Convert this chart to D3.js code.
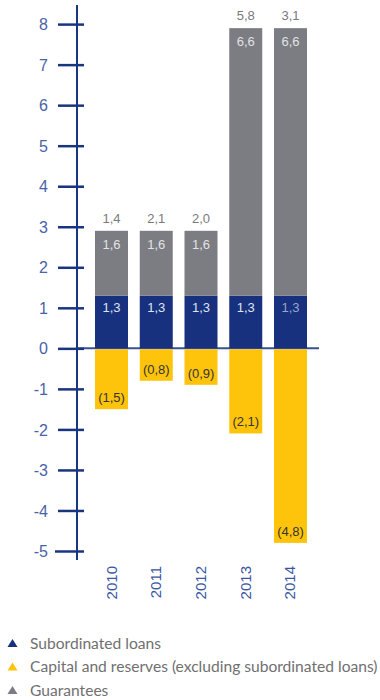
<!DOCTYPE html>
<html><head><meta charset="utf-8">
<script src="https://cdn.jsdelivr.net/npm/d3@7/dist/d3.min.js"></script>
<style>body{margin:0;background:#fff}svg{display:block}</style>
</head><body>
<script>
const years = ["2010","2011","2012","2013","2014"];
const subordinated = [1.3,1.3,1.3,1.3,1.3];
const guarantees = [1.6,1.6,1.6,6.6,6.6];
const capital = [-1.5,-0.8,-0.9,-2.1,-4.8];
const topLabels = ["1,4","2,1","2,0","5,8","3,1"];
const yTicks = [-5,-4,-3,-2,-1,0,1,2,3,4,5,6,7,8];
const legendItems = ["Subordinated loans","Capital and reserves (excluding subordinated loans)","Guarantees"];

const C = {navy:"#17317f", gray:"#7c7d82", yellow:"#fec40c", axis:"#1a3580", tick:"#4a62a8", year:"#3b56a4", legend:"#707070"};
const fmt = v => String(v.toFixed(1)).replace(".", ",");

const svg = d3.select("body").append("svg").attr("width",380).attr("height",700);
const font = "'Liberation Sans', Arial, sans-serif";

const y = d3.scaleLinear().domain([-5,8]).range([551,24.1]);
const x = d3.scaleBand().domain(years).range([83.25,318.75]).paddingInner(0.2626).paddingOuter(0.2626);

// zero line
svg.append("line").attr("x1",77).attr("x2",319).attr("y1",y(0)).attr("y2",y(0))
  .attr("stroke","#3a4f8e").attr("stroke-width",2);

// bars
const g = svg.append("g");
years.forEach((yr,i)=>{
  const x0 = x(yr), w = x.bandwidth();
  g.append("rect").attr("x",x0).attr("width",w).attr("y",y(subordinated[i])).attr("height",y(0)-y(subordinated[i])).attr("fill",C.navy);
  g.append("rect").attr("x",x0).attr("width",w).attr("y",y(subordinated[i]+guarantees[i])).attr("height",y(subordinated[i])-y(subordinated[i]+guarantees[i])).attr("fill",C.gray);
  g.append("rect").attr("x",x0).attr("width",w).attr("y",y(0)+1).attr("height",y(capital[i])-y(0)-1).attr("fill",C.yellow);
  const cx = x0 + w/2;
  const top = y(subordinated[i]+guarantees[i]);
  const t = (txt, yy, col) => g.append("text").attr("x",cx).attr("y",yy).attr("text-anchor","middle")
    .attr("font-family",font).attr("font-size",13).attr("fill",col).text(txt);
  t(topLabels[i], top-8, "#7a7a7a");
  t(fmt(guarantees[i]), top+18, "#e2e2e6");
  t(fmt(subordinated[i]), y(subordinated[i])+16, i===4 ? "#9aa4c8" : "#dfe3f0");
  t("("+fmt(-capital[i])+")", y(capital[i])-7, "#333333");
});

// axis
const axis = d3.axisLeft(y).tickValues(yTicks).tickFormat(d=>String(d)).tickSize(19).tickPadding(11);
const ag = svg.append("g").attr("transform","translate(77,0)").call(axis);
ag.select(".domain").remove();
ag.selectAll(".tick line").attr("x1",d=>d===-5?-22:-19).attr("x2",7).attr("stroke",C.axis).attr("stroke-width",2.5);
ag.selectAll(".tick text").attr("font-family",font).attr("font-size",16).attr("fill",C.tick).attr("x",-29).attr("dy","0.35em");
svg.append("line").attr("x1",77).attr("x2",77).attr("y1",5).attr("y2",560).attr("stroke",C.axis).attr("stroke-width",2);

// year labels
years.forEach(yr=>{
  const cx = x(yr)+x.bandwidth()/2;
  svg.append("text").attr("transform",`translate(${cx+5},566) rotate(-90)`).attr("text-anchor","end")
    .attr("font-family",font).attr("font-size",15).attr("fill",C.year).text(yr);
});

// legend
const lc = [C.navy, C.yellow, C.gray];
legendItems.forEach((s,i)=>{
  const cy = 643 + i*23.5;
  svg.append("path").attr("d",`M7.5,${cy+4} L12.5,${cy-4} L17.5,${cy+4} Z`).attr("fill",lc[i]);
  svg.append("text").attr("x",30).attr("y",cy+5.5).attr("font-family","Lato, 'Open Sans', sans-serif").attr("font-size",15.6)
    .attr("fill",C.legend).text(s);
});
</script>
</body></html>
